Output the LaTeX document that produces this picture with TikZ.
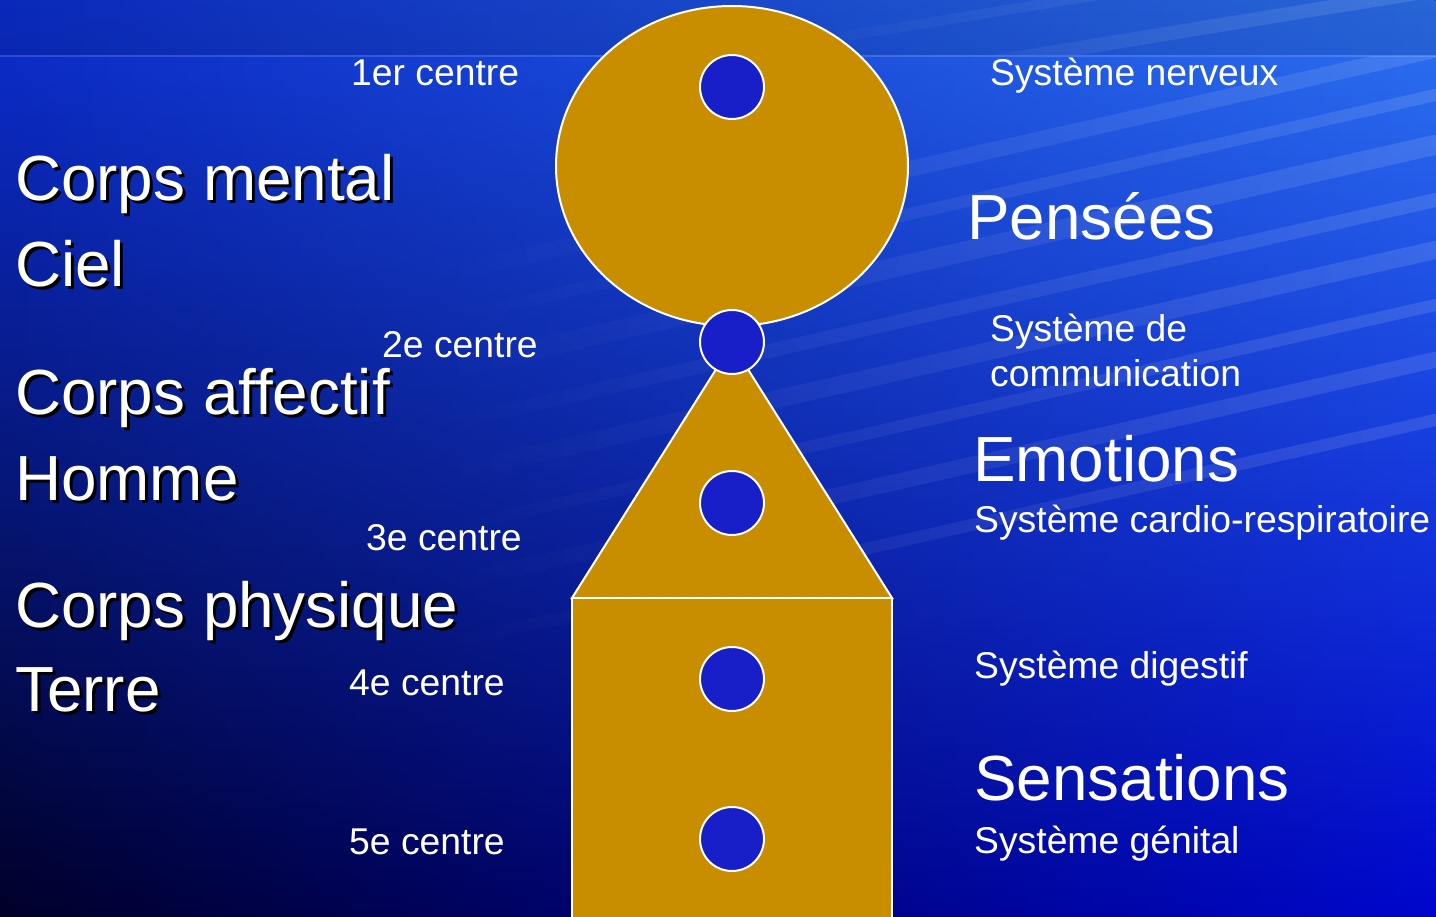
\documentclass[tikz,border=0pt]{standalone}
\usepackage{fontspec}
\setmainfont{Liberation Sans}
\usetikzlibrary{fadings}
\definecolor{bgtop}{RGB}{12,46,208}
\definecolor{bgmid}{RGB}{18,32,165}
\definecolor{bgbot}{RGB}{0,0,40}
\definecolor{rtop}{RGB}{45,115,240}
\definecolor{rmid}{RGB}{35,55,230}
\definecolor{rbot}{RGB}{0,6,205}
\definecolor{gold}{RGB}{201,142,0}
\definecolor{dotblue}{RGB}{24,30,200}
\tikzfading[name=fadeR, left color=transparent!100, right color=transparent!0]
\tikzfading[name=fadeRs, left color=transparent!100, middle color=transparent!60, right color=transparent!0]
\newcommand{\shadowtext}[1]{\makebox[0pt][l]{\hspace{3pt}\raisebox{-3pt}{\color{black}#1}}#1}
\tikzset{
  shapefill/.style={fill=gold, draw=white, line width=2pt},
  dot/.style={circle, minimum size=64pt, inner sep=0pt, fill=dotblue, draw=white, line width=2pt},
  small/.style={anchor=base west, inner sep=0pt, text=white, font=\fontsize{37.3}{41}\selectfont},
  big/.style={anchor=base west, inner sep=0pt, text=white, font=\fontsize{63.8}{70}\selectfont},
  streak/.style={draw=white, draw opacity=0.12, line cap=round},
}
\begin{document}
\begin{tikzpicture}[x=1pt,y=-1pt]
\useasboundingbox (0,0) rectangle (1436,917);
% background
\shade[top color=bgtop, middle color=bgmid, bottom color=bgbot] (0,0) rectangle (1436,917);
\shade[top color=rtop, middle color=rmid, bottom color=rbot, path fading=fadeR] (0,0) rectangle (1436,917);
% top band
\fill[black, opacity=0.10] (0,0) rectangle (1436,55);
\draw[white, opacity=0.15, line width=2pt] (0,56) -- (1436,56);
% streaks
\begin{scope}
\clip (0,57) rectangle (1436,917);
\foreach \y/\w in {120/16, 165/12, 215/20, 270/14, 320/18, 375/12, 430/16, 490/12}{
  \draw[streak, line width=\w pt, path fading=fadeRs] (420,\y+160) -- (1436,\y-70);
}
\end{scope}
\begin{scope}
\clip (0,0) rectangle (1436,55);
\foreach \y/\w in {60/10, 110/14}{
  \draw[streak, line width=\w pt, path fading=fadeRs] (700,\y) -- (1436,\y-120);
}
\end{scope}
% shapes
\path[shapefill] (732,166) ellipse [x radius=176, y radius=160];
\coordinate (tl) at (572,598);
\coordinate (tr) at (892,598);
\coordinate (apex) at (732,344);
\path[shapefill] (tl) -- (apex) -- (tr) -- cycle;
\path[shapefill] (tl) rectangle (892,935);
\node[dot] (c1) at (732,87) {};
\node[dot] (c2) at (732,342) {};
\node[dot] (c3) at (732,503) {};
\node[dot] (c4) at (732,679) {};
\node[dot] (c5) at (732,839) {};
% centre labels
\node[small] (l1) at (351,86) {1er centre};
\node[small] (l2) at (382,358) {2e centre};
\node[small] (l3) at (366,550) {3e centre};
\node[small] (l4) at (349,695) {4e centre};
\node[small] (l5) at (349,854) {5e centre};
% left big texts with shadow
\node[big] (ta) at (15,201) {\shadowtext{Corps mental}};
\node[big] (tb) at (15,287) {\shadowtext{Ciel}};
\node[big] (tc) at (15,414) {\shadowtext{Corps affectif}};
\node[big] (td) at (15,500) {\shadowtext{Homme}};
\node[big] (te) at (15,627) {\shadowtext{Corps physique}};
\node[big] (tf) at (15,711) {\shadowtext{Terre}};
% right texts
\node[small] (r1) at (990,86) {Système nerveux};
\node[big] (r2) at (967,240) {Pensées};
\node[small] (r3) at (990,342) {Système de};
\node[small] (r4) at (990,387) {communication};
\node[big] (r5) at (973,481) {Emotions};
\node[small] (r6) at (974,532) {Système cardio-respiratoire};
\node[small] (r7) at (974,678) {Système digestif};
\node[big] (r8) at (974,800) {Sensations};
\node[small] (r9) at (974,853) {Système génital};
\end{tikzpicture}
\end{document}
